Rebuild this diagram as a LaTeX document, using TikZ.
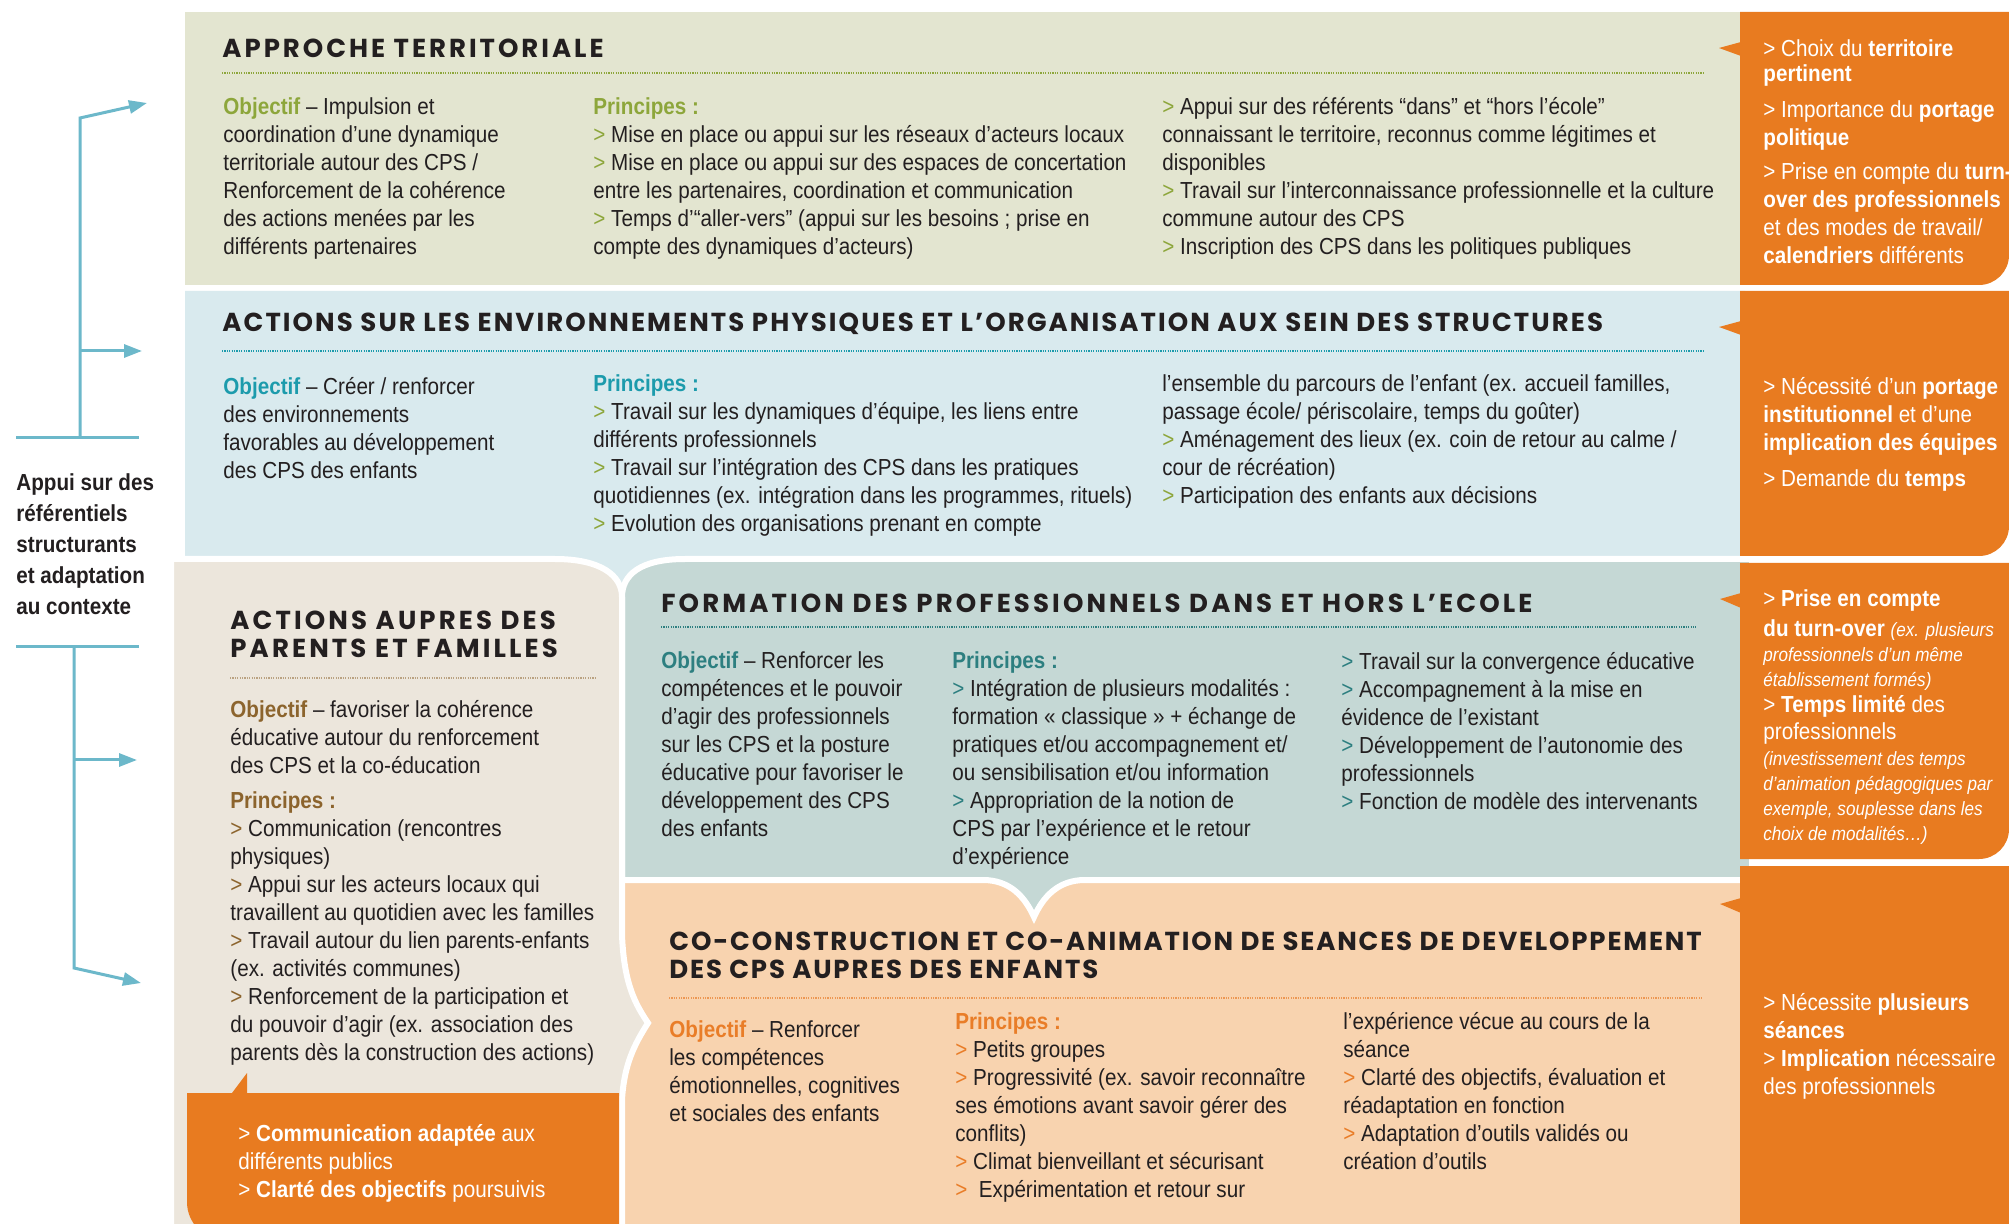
\documentclass[tikz,border=0pt]{standalone}
\usepackage{fontspec}
\setmainfont{Liberation Sans}[FakeStretch=0.89]
\newfontfamily\headfont{Poppins}
\usetikzlibrary{arrows.meta}
\definecolor{ink}{HTML}{231F20}
\definecolor{gbg}{HTML}{E3E5D0}
\definecolor{gac}{HTML}{8DA63B}
\definecolor{bbg}{HTML}{D9EAEE}
\definecolor{bac}{HTML}{1C9BAC}
\definecolor{ebg}{HTML}{ECE6DC}
\definecolor{eac}{HTML}{8C642D}
\definecolor{tbg}{HTML}{C5D8D5}
\definecolor{tac}{HTML}{2D7F80}
\definecolor{pbg}{HTML}{F8D3AF}
\definecolor{pac}{HTML}{E97D28}
\definecolor{org}{HTML}{E87B20}
\definecolor{con}{HTML}{6CB8CA}
\newcommand\chev[1]{\textcolor{#1}{>}}
\newcommand\obj[1]{\textcolor{#1}{\textbf{Objectif}}}
\newcommand\pri[1]{\textcolor{#1}{\textbf{Principes :}}}
\newcommand\smit[1]{{\fontsize{9.6}{12.5}\selectfont\itshape #1}}
\newcommand\ls[1]{\addfontfeatures{LetterSpace=#1}}
\tikzset{
  body/.style={anchor=north west, inner sep=0pt, align=left, text=ink, font=\fontsize{11.6}{14}\selectfont},
  wbody/.style={body, text=white},
  head/.style={anchor=base west, inner sep=0pt, text=ink, font=\headfont\bfseries\fontsize{13}{16}\selectfont},
  sep/.style={line width=0.6pt, dash pattern=on 0.6pt off 0.6pt},
  wline/.style={draw=white, line width=3pt},
  conn/.style={draw=con, line width=1.5pt},
  tip/.style={-{Triangle[length=9pt,width=6.5pt]}}
}
\begin{document}
\begin{tikzpicture}[x=0.5pt,y=-0.5pt]
\useasboundingbox (0,0) rectangle (2009,1224);
\fill[white] (0,0) rectangle (2009,1224);
% ---------- backgrounds ----------
\fill[gbg] (185,12) rectangle (1745,285);
\fill[bbg] (185,291) -- (1745,291) -- (1745,559) -- (700,559) -- (700,620) -- (540,620) -- (540,559) -- (185,559) -- cycle;
\fill[pbg] (600,877) rectangle (1745,1240);
\filldraw[fill=tbg, wline] (622,597) .. controls (622,575) and (640,559) .. (685,559) -- (1752,559) -- (1752,880)
  -- (1085,880) .. controls (1058,880) and (1043,897) .. (1034,917) .. controls (1025,897) and (1010,880) .. (983,880) -- (622,880) -- cycle;
\filldraw[fill=ebg, wline] (171,559) -- (555,559) .. controls (600,559) and (622,575) .. (622,597) -- (622,935)
  .. controls (624,985) and (636,1005) .. (648,1023) .. controls (634,1045) and (624,1065) .. (622,1100) -- (622,1240) -- (171,1240) -- cycle;
% ---------- orange panels ----------
\fill[org] (1740,12) -- (2009,12) -- (2009,255) .. controls (2009,271.5) and (1995.5,285) .. (1979,285) -- (1740,285) -- cycle;
\fill[org] (1741,42) -- (1719,48) -- (1741,56) -- cycle;
\fill[org] (1740,291) -- (2009,291) -- (2009,526) .. controls (2009,542.5) and (1995.5,556) .. (1979,556) -- (1740,556) -- cycle;
\fill[org] (1741,321) -- (1719,327) -- (1741,335) -- cycle;
\fill[org] (1740,563) -- (2009,563) -- (2009,829) .. controls (2009,845.5) and (1995.5,859) .. (1979,859) -- (1740,859) -- cycle;
\fill[org] (1741,593) -- (1720,599) -- (1741,608) -- cycle;
\fill[org] (1740,866) rectangle (2009,1240);
\fill[org] (1741,898) -- (1720,904) -- (1741,913) -- cycle;
\fill[org] (187,1093) -- (232,1093) -- (247,1073) -- (247,1093) -- (619,1093) -- (619,1240) -- (225,1240)
  .. controls (204,1240) and (187,1223) .. (187,1202) -- cycle;
% ---------- dotted separators ----------
\draw[sep, draw=gac] (222,73) -- (1703,73);
\draw[sep, draw=bac] (222,351) -- (1703,351);
\draw[sep, draw=eac!60] (230,678) -- (597,678);
\draw[sep, draw=tac] (661,627) -- (1696,627);
\draw[sep, draw=pac!80] (669,998) -- (1703,998);
% ---------- APPROCHE TERRITORIALE ----------
\node[head] (h1) at (222,58) {\ls{11.5}APPROCHE TERRITORIALE};
\node[body] (g1) at (223,94.4) {\strut\obj{gac} – Impulsion et\\coordination d’une dynamique\\territoriale autour des CPS /\\Renforcement de la cohérence\\des actions menées par les\\différents partenaires};
\node[body] (g2) at (593,94.4) {\strut\pri{gac}\\\chev{gac} Mise en place ou appui sur les réseaux d’acteurs locaux\\\chev{gac} Mise en place ou appui sur des espaces de concertation\\entre les partenaires, coordination et communication\\\chev{gac} Temps d’“aller-vers” (appui sur les besoins ; prise en\\compte des dynamiques d’acteurs)};
\node[body] (g3) at (1162,94.4) {\strut\chev{gac} Appui sur des référents “dans” et “hors l’école”\\connaissant le territoire, reconnus comme légitimes et\\disponibles\\\chev{gac} Travail sur l’interconnaissance professionnelle et la culture\\commune autour des CPS\\\chev{gac} Inscription des CPS dans les politiques publiques};
\node[wbody] (o1) at (1763,36.4) {\strut> Choix du \textbf{territoire}\\[-1.5pt]\textbf{pertinent}\\[4pt]> Importance du \textbf{portage}\\\textbf{politique}\\[3pt]> Prise en compte du \textbf{turn-}\\\textbf{over des professionnels}\\et des modes de travail/\\\textbf{calendriers} différents};
% ---------- ACTIONS ENVIRONNEMENTS ----------
\node[head] (h2) at (222,332) {\ls{8}ACTIONS SUR LES ENVIRONNEMENTS PHYSIQUES ET L’ORGANISATION AUX SEIN DES STRUCTURES};
\node[body] (b1) at (223,374.4) {\strut\obj{bac} – Créer / renforcer\\des environnements\\favorables au développement\\des CPS des enfants};
\node[body] (b2) at (593,371.4) {\strut\pri{bac}\\\chev{gac} Travail sur les dynamiques d’équipe, les liens entre\\différents professionnels\\\chev{gac} Travail sur l’intégration des CPS dans les pratiques\\quotidiennes (ex. intégration dans les programmes, rituels)\\\chev{gac} Evolution des organisations prenant en compte};
\node[body] (b3) at (1162,371.4) {\strut l’ensemble du parcours de l’enfant (ex. accueil familles,\\passage école/ périscolaire, temps du goûter)\\\chev{gac} Aménagement des lieux (ex. coin de retour au calme /\\cour de récréation)\\\chev{gac} Participation des enfants aux décisions};
\node[wbody] (o2) at (1763,374.4) {\strut> Nécessité d’un \textbf{portage}\\\textbf{institutionnel} et d’une\\\textbf{implication des équipes}\\[4pt]> Demande du \textbf{temps}};
% ---------- PARENTS ----------
\node[head] (h3a) at (230,630) {\ls{12}ACTIONS AUPRES DES};
\node[head] (h3b) at (230,658) {\ls{12}PARENTS ET FAMILLES};
\node[body] (e1) at (230,697.4) {\strut\obj{eac} – favoriser la cohérence\\éducative autour du renforcement\\des CPS et la co-éducation\\[3.5pt]\pri{eac}\\\chev{eac} Communication (rencontres\\physiques)\\\chev{eac} Appui sur les acteurs locaux qui\\travaillent au quotidien avec les familles\\\chev{eac} Travail autour du lien parents-enfants\\(ex. activités communes)\\\chev{eac} Renforcement de la participation et\\du pouvoir d’agir (ex. association des\\parents dès la construction des actions)};
\node[wbody] (o5) at (238,1121.4) {\strut> \textbf{Communication adaptée} aux\\différents publics\\> \textbf{Clarté des objectifs} poursuivis};
% ---------- FORMATION ----------
\node[head] (h4) at (661,613) {\ls{12}FORMATION DES PROFESSIONNELS DANS ET HORS L’ECOLE};
\node[body] (t1) at (661,648.4) {\strut\obj{tac} – Renforcer les\\compétences et le pouvoir\\d’agir des professionnels\\sur les CPS et la posture\\éducative pour favoriser le\\développement des CPS\\des enfants};
\node[body] (t2) at (952,648.4) {\strut\pri{tac}\\\chev{tac} Intégration de plusieurs modalités :\\formation « classique » + échange de\\pratiques et/ou accompagnement et/\\ou sensibilisation et/ou information\\\chev{tac} Appropriation de la notion de\\CPS par l’expérience et le retour\\d’expérience};
\node[body] (t3) at (1341,649.4) {\strut\chev{tac} Travail sur la convergence éducative\\\chev{tac} Accompagnement à la mise en\\évidence de l’existant\\\chev{tac} Développement de l’autonomie des\\professionnels\\\chev{tac} Fonction de modèle des intervenants};
\node[wbody, font=\fontsize{11.6}{12.5}\selectfont] (o3) at (1763,588.5) {\strut> \textbf{Prise en compte}\\[2.5pt]\textbf{du turn-over} \smit{(ex. plusieurs}\\\smit{professionnels d’un même}\\\smit{établissement formés)}\\[0.5pt]> \textbf{Temps limité} des\\[1pt]professionnels\\[0.5pt]\smit{(investissement des temps}\\\smit{d’animation pédagogiques par}\\\smit{exemple, souplesse dans les}\\\smit{choix de modalités…)}};
% ---------- CO-CONSTRUCTION ----------
\node[head] (h5a) at (669,950) {\ls{7}CO-CONSTRUCTION ET CO-ANIMATION DE SEANCES DE DEVELOPPEMENT};
\node[head] (h5b) at (669,978) {\ls{7}DES CPS AUPRES DES ENFANTS};
\node[body] (p1) at (669,1017.4) {\strut\obj{pac} – Renforcer\\les compétences\\émotionnelles, cognitives\\et sociales des enfants};
\node[body] (p2) at (955,1009.4) {\strut\pri{pac}\\\chev{pac} Petits groupes\\\chev{pac} Progressivité (ex. savoir reconnaître\\ses émotions avant savoir gérer des\\conflits)\\\chev{pac} Climat bienveillant et sécurisant\\\chev{pac}\ \ Expérimentation et retour sur};
\node[body] (p3) at (1343,1009.4) {\strut l’expérience vécue au cours de la\\séance\\\chev{pac} Clarté des objectifs, évaluation et\\réadaptation en fonction\\\chev{pac} Adaptation d’outils validés ou\\création d’outils};
\node[wbody] (o4) at (1763,990.4) {\strut> Nécessite \textbf{plusieurs}\\\textbf{séances}\\> \textbf{Implication} nécessaire\\des professionnels};
% ---------- left annotation ----------
\node[body, font=\fontsize{11.6}{15.5}\selectfont\bfseries] (ref) at (16,468.3) {\strut Appui sur des\\référentiels\\structurants\\et adaptation\\au contexte};
\coordinate (barA1) at (16,438); \coordinate (barA2) at (139,438);
\coordinate (jA) at (80,438); \coordinate (bendA) at (80,118); \coordinate (tipA) at (147,103);
\coordinate (midA) at (80,351); \coordinate (tipB) at (142,351);
\coordinate (barB1) at (16,647); \coordinate (barB2) at (139,647);
\coordinate (jB) at (74,647); \coordinate (bendB) at (74,968); \coordinate (tipD) at (141,983);
\coordinate (midB) at (74,760); \coordinate (tipC) at (137,760);
\draw[conn] (barA1) -- (barA2);
\draw[conn] (barB1) -- (barB2);
\draw[conn, tip] (jA) -- (bendA) -- (tipA);
\draw[conn, tip] (midA) -- (tipB);
\draw[conn, tip] (jB) -- (bendB) -- (tipD);
\draw[conn, tip] (midB) -- (tipC);
\end{tikzpicture}
\end{document}
